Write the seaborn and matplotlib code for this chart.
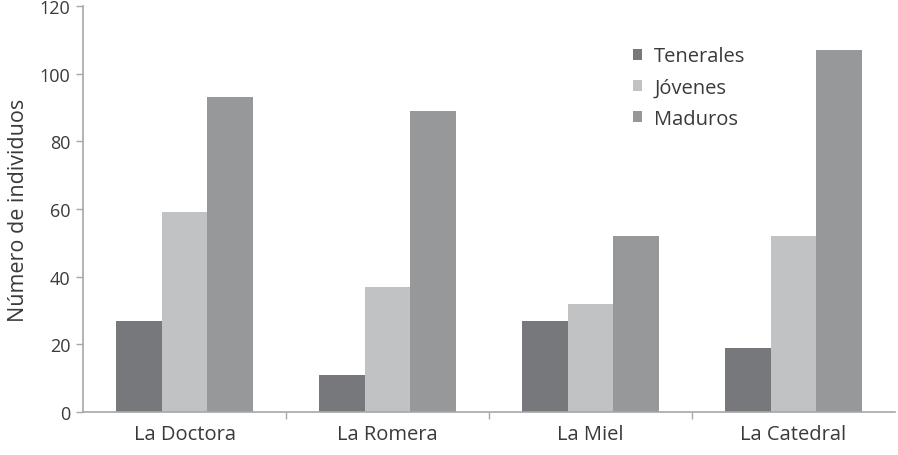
import numpy as np
import pandas as pd
import matplotlib
matplotlib.use("Agg")
import matplotlib.pyplot as plt
import seaborn as sns

# -----------------------------
# DATA
# -----------------------------
sites = ["La Doctora", "La Romera", "La Miel", "La Catedral"]
stages = ["Tenerales", "Jóvenes", "Maduros"]
tenerales = [27, 11, 27, 19]
jovenes = [59, 37, 32, 52]
maduros = [93, 89, 52, 107]

colors = ["#77787b", "#c1c2c4", "#97989a"]
text_col = "#3a3a3a"
axis_col = "#a7a7a7"

df = pd.DataFrame({
    "site": sites * 3,
    "stage": [s for s in stages for _ in sites],
    "n": tenerales + jovenes + maduros,
})

# -----------------------------
# PLOT
# -----------------------------
sns.set_theme(style="white")
plt.rcParams["font.family"] = ["Open Sans", "DejaVu Sans"]

fig = plt.figure(figsize=(8.98, 4.56), dpi=100)
ax = fig.add_axes([83 / 898, 43 / 456, 812 / 898, 406 / 456])

sns.barplot(data=df, x="site", y="n", hue="stage", order=sites, hue_order=stages,
            palette=colors, width=0.67, saturation=1, ax=ax, linewidth=0)

ax.set_ylim(0, 120)
ax.set_xlim(-0.5, len(sites) - 0.5)
ax.set_yticks(np.arange(0, 121, 20))
ax.tick_params(axis="y", labelsize=13, colors=axis_col, labelcolor=text_col,
               length=5, width=1, direction="out", left=True, pad=4)
ax.tick_params(axis="x", labelsize=14.5, labelcolor=text_col, length=0, pad=9)
ax.set_xticks(np.arange(0.5, len(sites) - 0.5), minor=True)
ax.tick_params(axis="x", which="minor", length=5, width=1, colors=axis_col, bottom=True)

ax.set_xlabel("")
ax.set_ylabel("Número de individuos", fontsize=15.5, color=text_col, labelpad=8)

sns.despine(ax=ax)
for side in ["left", "bottom"]:
    ax.spines[side].set_color(axis_col)
    ax.spines[side].set_linewidth(1.2)

leg = ax.legend(loc="upper left", bbox_to_anchor=(0.655, 0.945), frameon=False,
                fontsize=14.5, handlelength=0.45, handleheight=0.45, handletextpad=0.6,
                labelspacing=0.55, labelcolor=text_col)

fig.savefig("out.png", dpi=100)
